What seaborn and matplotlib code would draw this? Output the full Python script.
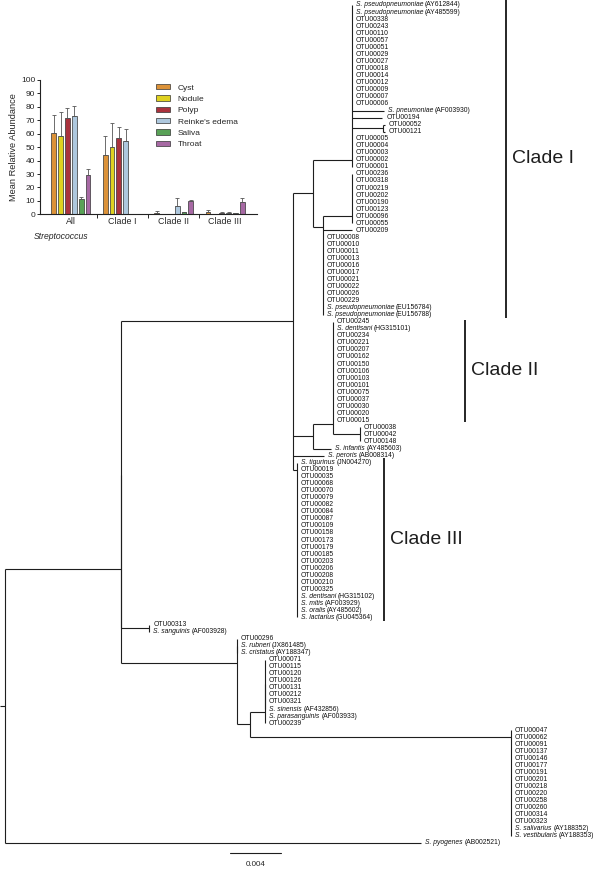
import numpy as np
import pandas as pd
import matplotlib
matplotlib.use("Agg")
import matplotlib.pyplot as plt
import seaborn as sns
from matplotlib.collections import LineCollection

sns.set_theme(style="white")
plt.rcParams["font.family"] = ["Liberation Sans", "DejaVu Sans"]

# ---------------- inset bar chart data ----------------
groups = ["All", "Clade I", "Clade II", "Clade III"]
sites = ["Cyst", "Nodule", "Polyp", "Reinke's edema", "Saliva", "Throat"]
site_colors = ["#F7941D", "#FFEC00", "#BE1E2D", "#A6C8E6", "#4DAF4A", "#B15FAE"]
mean_all = [60.3, 58.3, 71.5, 73.2, 11.2, 29.3]
mean_c1 = [44.2, 50.4, 57.0, 54.8, 0.0, 0.0]
mean_c2 = [1.3, 0.2, 0.1, 6.0, 1.5, 9.6]
mean_c3 = [2.0, 0.4, 1.0, 1.0, 0.9, 9.4]
err_all = [13.6, 18.1, 7.4, 7.7, 1.5, 4.4]
err_c1 = [14.3, 17.8, 7.8, 8.9, 0.0, 0.0]
err_c2 = [0.9, 0.0, 0.0, 6.5, 0.5, 1.4]
err_c3 = [1.0, 0.0, 0.5, 0.5, 0.3, 3.0]

# ---------------- tree tips (top to bottom) ----------------
clade1_top = ["S. pseudopneumoniae (AY612844)", "S. pseudopneumoniae (AY485599)",
              "OTU00338", "OTU00243", "OTU00110", "OTU00057", "OTU00051", "OTU00029",
              "OTU00027", "OTU00018", "OTU00014", "OTU00012", "OTU00009", "OTU00007", "OTU00006"]
pneumo_tips = ["S. pneumoniae (AF003930)", "OTU00194"]
pair_052 = ["OTU00052", "OTU00121"]
clade1_mid = ["OTU00005", "OTU00004", "OTU00003", "OTU00002", "OTU00001"]
clade1_sub = ["OTU00236", "OTU00318", "OTU00219", "OTU00202", "OTU00190", "OTU00123",
              "OTU00096", "OTU00055"]
clade1_low = ["OTU00008", "OTU00010", "OTU00011", "OTU00013", "OTU00016", "OTU00017",
              "OTU00021", "OTU00022", "OTU00026", "OTU00229",
              "S. pseudopneumoniae (EU156784)", "S. pseudopneumoniae (EU156788)"]
clade2_main = ["OTU00245", "S. dentisani (HG315101)", "OTU00234", "OTU00221", "OTU00207",
               "OTU00162", "OTU00150", "OTU00106", "OTU00103", "OTU00101", "OTU00075",
               "OTU00037", "OTU00030", "OTU00020", "OTU00015"]
clade2_sub = ["OTU00038", "OTU00042", "OTU00148"]
clade3 = ["S. tigurinus (JN004270)", "OTU00019", "OTU00035", "OTU00068", "OTU00070",
          "OTU00079", "OTU00082", "OTU00084", "OTU00087", "OTU00109", "OTU00158", "OTU00173",
          "OTU00179", "OTU00185", "OTU00203", "OTU00206", "OTU00208", "OTU00210", "OTU00325",
          "S. dentisani (HG315102)", "S. mitis (AF003929)", "S. oralis (AY485602)",
          "S. lactarius (GU045364)"]
sanguinis_grp = ["OTU00313", "S. sanguinis (AF003928)"]
cristatus_grp = ["S. rubneri (JX861485)", "S. cristatus (AY188347)"]
sinensis_grp = ["OTU00071", "OTU00115", "OTU00120", "OTU00126", "OTU00131", "OTU00212",
                "OTU00321", "S. sinensis (AF432856)"]
salivarius_grp = ["OTU00047", "OTU00062", "OTU00091", "OTU00137", "OTU00146", "OTU00177",
                  "OTU00191", "OTU00201", "OTU00218", "OTU00220", "OTU00258", "OTU00260",
                  "OTU00314", "OTU00323", "S. salivarius (AY188352)", "S. vestibularis (AY188353)"]

# branch lengths (substitutions per site)
bl_inner = [0.00907, 0.01354, 0.00152, 0.00306, 0.00078, 0.00228]   # A, B, H, U, M, V
bl_pneumo = [0.00250, 0.00240, 0.00248]                             # pneumoniae, 194, 052-node
bl_clade2 = [0.00157, 0.00152, 0.00214, 0.00141, 0.00241, 0.00027]  # I, J, K, infantis, peroris, clade III
bl_lower = [0.00224, 0.00910, 0.00104, 0.00118, 0.02047, 0.03263]   # sanguinis, C, D, E, F, pyogenes
bl_twig = 0.00012


def leaf(name, bl=0.0):
    return {"name": name, "bl": bl, "kids": []}


def node(kids, bl=0.0, rule="mean"):
    return {"bl": bl, "kids": kids, "rule": rule}


U = node([leaf(n) for n in clade1_top]
         + [leaf(pneumo_tips[0], bl_pneumo[0]), leaf(pneumo_tips[1], bl_pneumo[1]),
            node([leaf(n, bl_twig) for n in pair_052], bl_pneumo[2])]
         + [leaf(n) for n in clade1_mid], bl_inner[3], "fwd")
V = node([leaf(n) for n in clade1_sub], bl_inner[5], "fwd")
M = node([V, leaf("OTU00209", bl_inner[5])] + [leaf(n) for n in clade1_low], bl_inner[4], "rev")
H = node([U, M], bl_inner[2])
K = node([leaf(n) for n in clade2_sub], bl_clade2[2])
J = node([leaf(n) for n in clade2_main] + [K], bl_clade2[1], "fwd")
I = node([J, leaf("S. infantis (AY485603)", bl_clade2[3])], bl_clade2[0])
G = node([leaf(n) for n in clade3], bl_clade2[5], "rev")
B = node([H, I, leaf("S. peroris (AB008314)", bl_clade2[4]), G], bl_inner[1], "rev")
S = node([leaf(n) for n in sanguinis_grp], bl_lower[0])
E = node([node([leaf(n) for n in sinensis_grp]), leaf("S. parasanguinis (AF003933)"),
          leaf("OTU00239")], bl_lower[3], "fwd")
F = node([leaf(n) for n in salivarius_grp], bl_lower[4], "rev")
D = node([E, F], bl_lower[2])
C = node([leaf("OTU00296"), node([leaf(n) for n in cristatus_grp]), D], bl_lower[1], "rev")
A = node([node([B, S]), C], bl_inner[0])
root = node([A, leaf("S. pyogenes (AB002521)", bl_lower[5])])

segs, tips = [], []


def place(nd, x0, counter):
    x = x0 + nd["bl"]
    nd["x"] = x
    if not nd["kids"]:
        nd["y"] = counter[0]
        counter[0] += 1
        tips.append(nd)
        return nd["y"]
    ys = [place(k, x, counter) for k in nd["kids"]]
    if nd["rule"] == "fwd":
        y = ys[0]
        for v in ys[1:]:
            y = (y + v) / 2
    elif nd["rule"] == "rev":
        y = ys[-1]
        for v in ys[-2::-1]:
            y = (y + v) / 2
    else:
        y = float(np.mean(ys))
    nd["y"] = y
    segs.append([(x, min(ys)), (x, max(ys))])
    for k in nd["kids"]:
        segs.append([(x, k["y"]), (k["x"], k["y"])])
    return y


place(root, 0.0, [0])

# ---------------- figure ----------------
W_PX, H_PX = 600, 871
fig = plt.figure(figsize=(W_PX / 100, H_PX / 100), dpi=100)
ax = fig.add_axes([0, 0, 1, 1])
ax.set_axis_off()
unit = 0.004 / 51.0          # substitutions per pixel
row = 7.04                   # pixels per tip row
ax.set_xlim(-5 * unit, (W_PX - 5) * unit)
ax.set_ylim((H_PX - 5) / row, -5 / row)

segs.append([(-5 * unit, root["y"]), (0, root["y"])])
ax.add_collection(LineCollection(segs, colors="#1e1e1e", linewidths=0.8, capstyle="butt"))

tip_kw = dict(fontsize=4.9, va="center", ha="left", color="#111111")
for t in tips:
    x = t["x"] + 4 * unit
    if t["name"].startswith("S. "):
        sp, acc = t["name"].split(" (")
        t1 = ax.text(x, t["y"], sp, style="italic", **tip_kw)
        ax.annotate("(" + acc, xy=(1, 0.5), xycoords=t1, xytext=(1.4, 0),
                    textcoords="offset points", **tip_kw)
    else:
        ax.text(x, t["y"], t["name"], **tip_kw)

# clade bars: label, first tip, last tip, x (px), pad above / below (rows)
names = [t["name"] for t in tips]
clade_marks = [("Clade I", clade1_top[0], clade1_low[-1], 506, 0.7, 0.4),
               ("Clade II", clade2_main[0], clade2_main[-1], 465, 0.3, 0.25),
               ("Clade III", clade3[0], clade3[-1], 384, 0.6, 0.5)]
for lab, first, last, xpx, pa, pb in clade_marks:
    y0, y1 = names.index(first) - pa, names.index(last) + pb
    xb = (xpx - 5) * unit
    ax.plot([xb, xb], [y0, y1], color="#262626", lw=1.4, solid_capstyle="butt")
    ax.text(xb + 6 * unit, (y0 + y1) / 2, lab, fontsize=14, va="center", ha="left",
            color="#1e1e1e")

# scale bar
sb_y = (853 - 5) / row
sb_x = (230 - 5) * unit
ax.plot([sb_x, sb_x + 0.004], [sb_y, sb_y], color="#1e1e1e", lw=0.8)
ax.text(sb_x + 0.002, sb_y + 1.7, "0.004", fontsize=5.8, ha="center", va="center")

# ---------------- inset bar chart ----------------
axb = fig.add_axes([40 / W_PX, 1 - 214.3 / H_PX, 217 / W_PX, 134.3 / H_PX])
axb.set_facecolor("none")
means = [mean_all, mean_c1, mean_c2, mean_c3]
errs = [err_all, err_c1, err_c2, err_c3]
df = pd.DataFrame([(g, s, m[j]) for g, m in zip(groups, means) for j, s in enumerate(sites)],
                  columns=["group", "site", "abundance"])
sns.barplot(data=df, x="group", y="abundance", hue="site", hue_order=sites,
            palette=site_colors, width=0.8, gap=0.28, edgecolor="#333333", linewidth=0.5,
            errorbar=None, ax=axb)
bar_sets = list(axb.containers)
for j, cont in enumerate(bar_sets):
    for i, p in enumerate(cont.patches):
        e = errs[i][j]
        if e > 0:
            xc = p.get_x() + p.get_width() / 2
            axb.errorbar(xc, means[i][j], yerr=[[0], [e]], fmt="none", ecolor="#555555",
                         elinewidth=0.6, capsize=1.5, capthick=0.6)

axb.set_ylim(0, 100)
axb.set_xlim(-0.6, 3.62)
axb.set_yticks(range(0, 101, 10))
axb.tick_params(axis="y", labelsize=6, length=2.5, width=0.7, pad=1, direction="out",
                left=True)
axb.set_xticks(range(4))
axb.set_xticklabels(groups)
axb.tick_params(axis="x", labelsize=6.4, length=0, pad=2)
axb.set_xticks([0.5, 1.5, 2.5], minor=True)
axb.tick_params(axis="x", which="minor", length=3, width=0.7, direction="out", bottom=True)
axb.set_xlabel("")
axb.set_ylabel("Mean Relative Abundance", fontsize=6.7, labelpad=2)
for side in ["top", "right"]:
    axb.spines[side].set_visible(False)
for side in ["left", "bottom"]:
    axb.spines[side].set_linewidth(0.8)
    axb.spines[side].set_color("#222222")

axb.legend(loc="upper left", bbox_to_anchor=(156 / W_PX, 1 - 84 / H_PX),
           bbox_transform=fig.transFigure, frameon=False, fontsize=6,
           handlelength=1.7, handleheight=0.6, handletextpad=0.9, labelspacing=0.45,
           borderpad=0, borderaxespad=0)
fig.text(34 / W_PX, 1 - 236 / H_PX, "Streptococcus", style="italic", fontsize=6.2,
         va="center", ha="left")

fig.savefig("out.png", dpi=100, facecolor="white")
